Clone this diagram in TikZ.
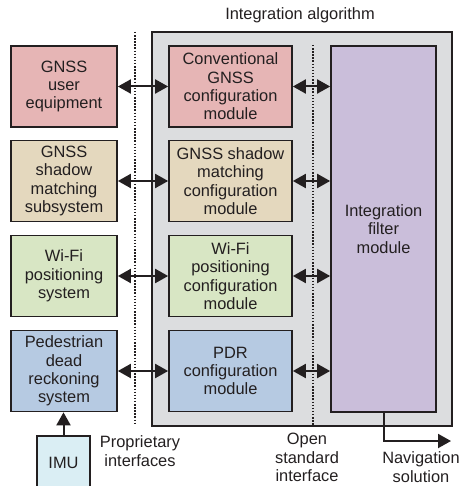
\documentclass[tikz,border=0pt]{standalone}
\usepackage{fontspec}
\setmainfont{Liberation Sans}
\usetikzlibrary{arrows.meta}
\definecolor{inkc}{RGB}{35,31,32}
\definecolor{pinkc}{RGB}{230,181,181}
\definecolor{tanc}{RGB}{228,216,190}
\definecolor{greenc}{RGB}{216,230,196}
\definecolor{bluec}{RGB}{182,202,226}
\definecolor{purplec}{RGB}{202,190,218}
\definecolor{grayc}{RGB}{220,221,223}
\definecolor{imuc}{RGB}{218,238,244}
\begin{document}
\begin{tikzpicture}[x=1pt,y=-1pt,
  every node/.style={text=inkc, font=\fontsize{16.4}{18.4}\selectfont, align=center, inner sep=0pt},
  blk/.style={draw=inkc, line width=1.7pt, minimum height=81pt},
  leftblk/.style={blk, minimum width=106pt},
  midblk/.style={blk, minimum width=123pt},
  dbl/.style={draw=inkc, line width=2pt, {Triangle[length=13pt,width=14pt]}-{Triangle[length=13pt,width=14pt]}},
  arr/.style={draw=inkc, line width=2pt, -{Triangle[length=13pt,width=14pt]}},
  sep/.style={draw=inkc, line width=1.8pt, dash pattern=on 1.5pt off 1.6pt}
]
\useasboundingbox (0,0) rectangle (462,486);
\clip (0,0) rectangle (462,486);

\node (title) at (300,15) {Integration algorithm};
\node[draw=inkc, line width=1.7pt, fill=grayc, minimum width=300pt, minimum height=394pt] (alg) at (302,229) {};

% dotted interface lines
\coordinate (d1t) at (135,32);
\coordinate (d1b) at (135,425);
\draw[sep] (d1t) -- (d1b);
\coordinate (d2t) at (313,45);
\coordinate (d2b) at (313,425);
\draw[sep] (d2t) -- (d2b);

% left column
\node[leftblk, fill=pinkc] (ue) at (64,86.5) {GNSS\\user\\equipment};
\node[leftblk, fill=tanc] (sm) at (64,181) {GNSS\\shadow\\matching\\subsystem};
\node[leftblk, fill=greenc] (wifi) at (64,276) {Wi-Fi\\positioning\\system};
\node[leftblk, fill=bluec] (pdr) at (64,371) {Pedestrian\\dead\\reckoning\\system};

% middle column
\node[midblk, fill=pinkc] (cg) at (230.5,86.5) {Conventional\\GNSS\\configuration\\module};
\node[midblk, fill=tanc] (cs) at (230.5,181) {GNSS shadow\\matching\\configuration\\module};
\node[midblk, fill=greenc] (cw) at (230.5,276) {Wi-Fi\\positioning\\configuration\\module};
\node[midblk, fill=bluec] (cp) at (230.5,371) {PDR\\configuration\\module};

% filter
\node[draw=inkc, line width=1.7pt, fill=purplec, minimum width=105pt, minimum height=366pt] (filt) at (383.5,229) {Integration\\filter\\module};

% IMU
\node[draw=inkc, line width=1.7pt, fill=imuc, minimum width=53pt, minimum height=62pt, anchor=north] (imu) at (63.5,435) {};
\node (imut) at (63.5,463) {IMU};

% arrows
\draw[dbl] (ue.east) -- (cg.west);
\draw[dbl] (sm.east) -- (cs.west);
\draw[dbl] (wifi.east) -- (cw.west);
\draw[dbl] (pdr.east) -- (cp.west);
\draw[dbl] (cg.east) -- (cg.east -| filt.west);
\draw[dbl] (cs.east) -- (cs.east -| filt.west);
\draw[dbl] (cw.east) -- (cw.east -| filt.west);
\draw[dbl] (cp.east) -- (cp.east -| filt.west);
\draw[arr] (imu.north) -- (imu.north |- pdr.south);

\coordinate (navend) at (451,441);
\draw[arr] (filt.south) |- (navend);

% labels
\node (prop) at (140,451) {Proprietary\\interfaces};
\node (open) at (307,457.5) {Open\\standard\\interface};
\node (nav) at (421,467) {Navigation\\solution};
\end{tikzpicture}
\end{document}
